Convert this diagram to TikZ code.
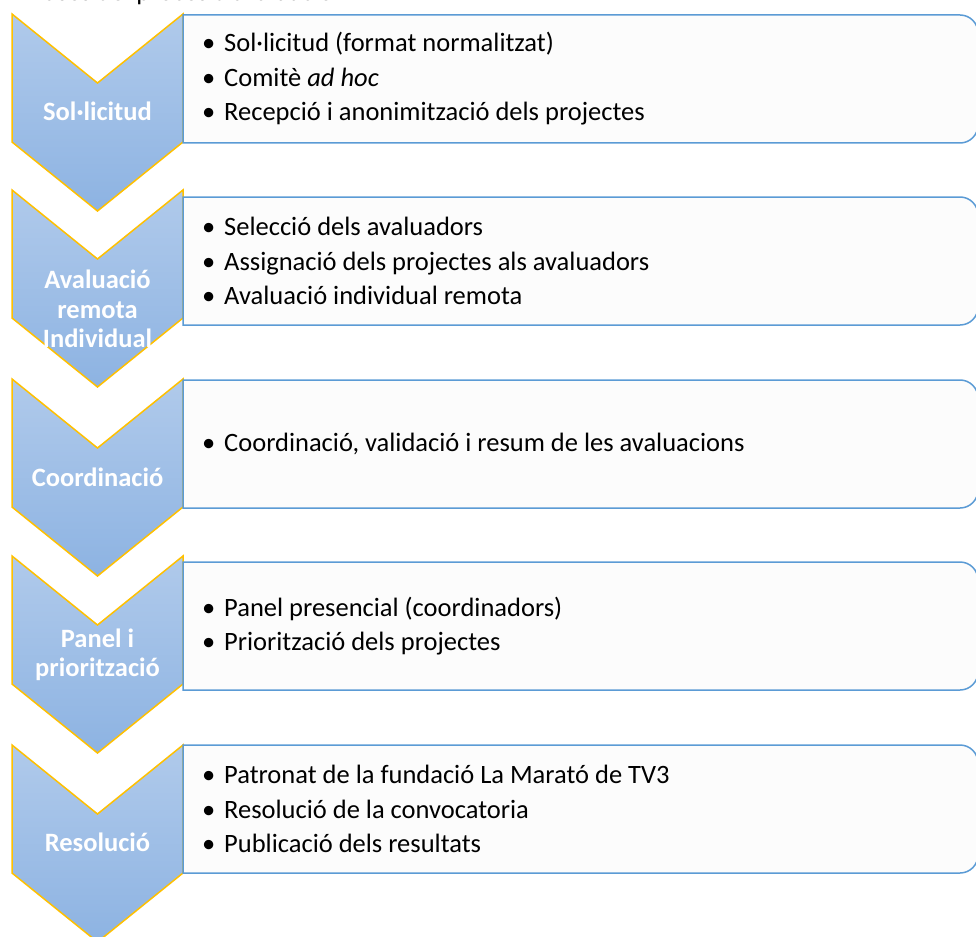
\documentclass[tikz,border=0pt]{standalone}
\usepackage{fontspec}
\setmainfont{Carlito}
\usepackage{xcolor}
\definecolor{cChevTop}{HTML}{B0CAEB}
\definecolor{cChevBot}{HTML}{8DB3E2}
\definecolor{cChevLine}{HTML}{FFC000}
\definecolor{cBoxLine}{HTML}{5B9BD5}
\definecolor{cBoxFill}{HTML}{FCFCFC}
\usepackage{tikz}
\tikzset{
  node-chevron/.style={draw=cChevLine,line width=1.5pt,top color=cChevTop,
    bottom color=cChevBot,line join=miter},
  node-frame/.style={draw=cBoxLine,line width=1.5pt,fill=cBoxFill},
  node-label/.style={text=white,font=\bfseries\fontsize{26.5}{29.5}\selectfont,
    align=center,inner sep=0pt},
  node-list/.style={anchor=west,align=left,inner sep=0pt,
    font=\fontsize{26.5}{34.5}\selectfont},
}
\newcommand\itemdot{\makebox[22pt][l]{•}}

\begin{document}
\begin{tikzpicture}[x=1pt,y=-1pt]
  \useasboundingbox (0,0) rectangle (976,936);
  \clip (0,0) rectangle (976,936);
  % títol (tallat)
  \node[anchor=base west,inner sep=0pt,font=\fontsize{26.5}{29}\selectfont] (title) at (33,1) {Fases del procés d'avaluació};

  % fletxes
  \draw[node-chevron] (12,14)  -- ++(85.5,69) -- ++(85.5,-69) -- ++(0,128) -- ++(-85.5,69) -- ++(-85.5,-69) -- cycle;
  \draw[node-chevron] (12,190) -- ++(85.5,69) -- ++(85.5,-69) -- ++(0,128) -- ++(-85.5,69) -- ++(-85.5,-69) -- cycle;
  \draw[node-chevron] (12,379) -- ++(85.5,69) -- ++(85.5,-69) -- ++(0,128) -- ++(-85.5,69) -- ++(-85.5,-69) -- cycle;
  \draw[node-chevron] (12,556) -- ++(85.5,69) -- ++(85.5,-69) -- ++(0,128) -- ++(-85.5,69) -- ++(-85.5,-69) -- cycle;
  \draw[node-chevron] (12,745) -- ++(85.5,69) -- ++(85.5,-69) -- ++(0,128) -- ++(-85.5,69) -- ++(-85.5,-69) -- cycle;

  % caixes
  \draw[node-frame] (183,15)  -- (960,15)  arc[start angle=-90,end angle=0,radius=18] -- (978,125) arc[start angle=0,end angle=90,radius=18] -- (183,143) -- cycle;
  \draw[node-frame] (183,197) -- (960,197) arc[start angle=-90,end angle=0,radius=18] -- (978,307) arc[start angle=0,end angle=90,radius=18] -- (183,325) -- cycle;
  \draw[node-frame] (183,380) -- (960,380) arc[start angle=-90,end angle=0,radius=18] -- (978,490) arc[start angle=0,end angle=90,radius=18] -- (183,508) -- cycle;
  \draw[node-frame] (183,562) -- (960,562) arc[start angle=-90,end angle=0,radius=18] -- (978,672) arc[start angle=0,end angle=90,radius=18] -- (183,690) -- cycle;
  \draw[node-frame] (183,745) -- (960,745) arc[start angle=-90,end angle=0,radius=18] -- (978,855) arc[start angle=0,end angle=90,radius=18] -- (183,873) -- cycle;

  % etapes
  \node[node-label] (lab1) at (97.5,111) {Sol·licitud};
  \node[node-label] (lab2) at (97.5,309) {Avaluació\\remota\\Individual};
  \node[node-label] (lab3) at (97.5,477) {Coordinació};
  \node[node-label] (lab4) at (97.5,655) {Panel i\\priorització};
  \node[node-label] (lab5) at (97.5,842) {Resolució};

  % tasques
  \node[node-list] (list1) at (202,79)  {\itemdot Sol·licitud (format normalitzat)\\
    \itemdot Comitè \textit{ad hoc}\\
    \itemdot Recepció i anonimització dels projectes};
  \node[node-list] (list2) at (202,261) {\itemdot Selecció dels avaluadors\\
    \itemdot Assignació dels projectes als avaluadors\\
    \itemdot Avaluació individual remota};
  \node[node-list] (list3) at (202,444) {\itemdot Coordinació, validació i resum de les avaluacions};
  \node[node-list] (list4) at (202,626) {\itemdot Panel presencial (coordinadors)\\
    \itemdot Priorització dels projectes};
  \node[node-list] (list5) at (202,809) {\itemdot Patronat de la fundació La Marató de TV3\\
    \itemdot Resolució de la convocatoria\\
    \itemdot Publicació dels resultats};
\end{tikzpicture}
\end{document}
